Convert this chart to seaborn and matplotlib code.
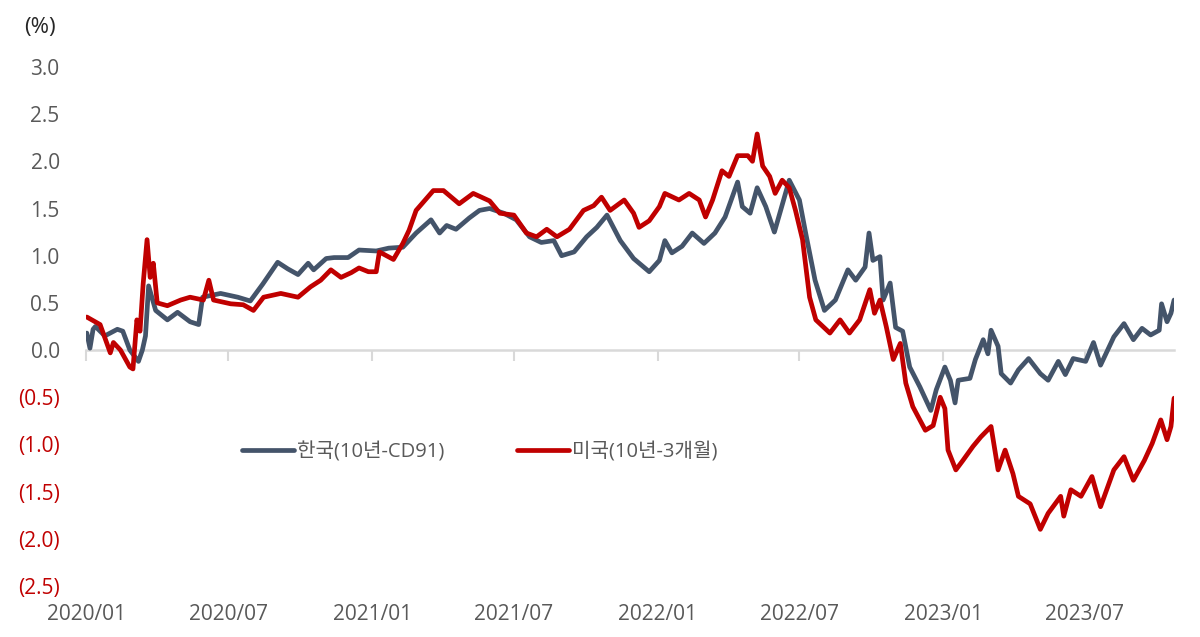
from matplotlib import pyplot as plt
import matplotlib.dates as mdates
import pandas as pd
import seaborn as sns
import numpy as np

# 한국(10년-CD91) 장단기 금리차
kr_dates = ["2020-01-02", "2020-01-06", "2020-01-10", "2020-01-13", "2020-01-25", "2020-02-10",
            "2020-02-17", "2020-02-26", "2020-03-08", "2020-03-13", "2020-03-17", "2020-03-21",
            "2020-03-30", "2020-04-14", "2020-04-27", "2020-05-13", "2020-05-24", "2020-05-29",
            "2020-06-21", "2020-07-13", "2020-07-29", "2020-08-14", "2020-09-02", "2020-09-15",
            "2020-09-28", "2020-10-11", "2020-10-18", "2020-11-03", "2020-11-13", "2020-12-01",
            "2020-12-15", "2021-01-06", "2021-01-22", "2021-02-09", "2021-02-26", "2021-03-17",
            "2021-03-28", "2021-04-06", "2021-04-18", "2021-05-05", "2021-05-18", "2021-05-31",
            "2021-06-18", "2021-07-04", "2021-07-21", "2021-08-05", "2021-08-21", "2021-08-31",
            "2021-09-16", "2021-10-02", "2021-10-15", "2021-10-28", "2021-11-14", "2021-12-01",
            "2021-12-21", "2022-01-03", "2022-01-10", "2022-01-19", "2022-02-01", "2022-02-14",
            "2022-03-01", "2022-03-15", "2022-03-28", "2022-04-13", "2022-04-19", "2022-04-29",
            "2022-05-08", "2022-05-19", "2022-05-30", "2022-06-07", "2022-06-18", "2022-07-01",
            "2022-07-09", "2022-07-21", "2022-08-02", "2022-08-16", "2022-09-01", "2022-09-11",
            "2022-09-23", "2022-09-28", "2022-10-03", "2022-10-12", "2022-10-16", "2022-10-25",
            "2022-11-01", "2022-11-10", "2022-11-19", "2022-12-02", "2022-12-16", "2022-12-23",
            "2023-01-03", "2023-01-10", "2023-01-16", "2023-01-20", "2023-02-04", "2023-02-11",
            "2023-02-21", "2023-02-27", "2023-03-03", "2023-03-12", "2023-03-16", "2023-03-28",
            "2023-04-07", "2023-04-20", "2023-05-05", "2023-05-15", "2023-05-28", "2023-06-06",
            "2023-06-16", "2023-07-02", "2023-07-12", "2023-07-21", "2023-08-07", "2023-08-20",
            "2023-09-01", "2023-09-12", "2023-09-23", "2023-10-04", "2023-10-07", "2023-10-14",
            "2023-10-19", "2023-10-23"]
kr_values = [0.18, 0.02, 0.22, 0.25, 0.15, 0.22,
             0.20, 0.00, -0.12, 0.00, 0.15, 0.68,
             0.42, 0.32, 0.40, 0.30, 0.27, 0.56,
             0.60, 0.56, 0.52, 0.70, 0.93, 0.86,
             0.80, 0.92, 0.85, 0.97, 0.98, 0.98,
             1.06, 1.05, 1.08, 1.09, 1.24, 1.38,
             1.24, 1.32, 1.28, 1.40, 1.48, 1.50,
             1.45, 1.38, 1.20, 1.14, 1.16, 1.00,
             1.04, 1.20, 1.30, 1.43, 1.16, 0.97,
             0.83, 0.95, 1.16, 1.03, 1.10, 1.24,
             1.13, 1.24, 1.41, 1.78, 1.52, 1.45,
             1.72, 1.52, 1.25, 1.48, 1.80, 1.59,
             1.24, 0.74, 0.42, 0.53, 0.85, 0.74,
             0.88, 1.24, 0.95, 0.99, 0.53, 0.71,
             0.24, 0.20, -0.18, -0.39, -0.64, -0.42,
             -0.18, -0.32, -0.56, -0.32, -0.30, -0.10,
             0.11, -0.04, 0.21, 0.04, -0.25, -0.35,
             -0.21, -0.09, -0.25, -0.32, -0.12, -0.26,
             -0.09, -0.12, 0.08, -0.16, 0.14, 0.28,
             0.11, 0.23, 0.16, 0.21, 0.49, 0.30,
             0.39, 0.53]

# 미국(10년-3개월) 장단기 금리차
us_dates = ["2020-01-02", "2020-01-19", "2020-02-01", "2020-02-05", "2020-02-14", "2020-02-26",
            "2020-03-01", "2020-03-06", "2020-03-10", "2020-03-14", "2020-03-19", "2020-03-23",
            "2020-03-27", "2020-04-01", "2020-04-14", "2020-05-01", "2020-05-13", "2020-05-30",
            "2020-06-06", "2020-06-12", "2020-07-04", "2020-07-20", "2020-08-02", "2020-08-15",
            "2020-09-06", "2020-09-28", "2020-10-14", "2020-10-27", "2020-11-09", "2020-11-22",
            "2020-12-05", "2020-12-15", "2020-12-27", "2021-01-06", "2021-01-10", "2021-01-28",
            "2021-02-09", "2021-02-17", "2021-02-26", "2021-03-20", "2021-04-02", "2021-04-22",
            "2021-05-10", "2021-05-31", "2021-06-13", "2021-07-01", "2021-07-17", "2021-07-30",
            "2021-08-12", "2021-08-25", "2021-09-10", "2021-09-28", "2021-10-11", "2021-10-21",
            "2021-11-01", "2021-11-19", "2021-12-01", "2021-12-08", "2021-12-21", "2022-01-03",
            "2022-01-10", "2022-01-28", "2022-02-10", "2022-02-23", "2022-03-03", "2022-03-12",
            "2022-03-24", "2022-04-02", "2022-04-13", "2022-04-26", "2022-05-02", "2022-05-08",
            "2022-05-15", "2022-05-24", "2022-05-31", "2022-06-09", "2022-06-18", "2022-06-26",
            "2022-07-05", "2022-07-14", "2022-07-22", "2022-08-09", "2022-08-22", "2022-09-03",
            "2022-09-16", "2022-09-29", "2022-10-05", "2022-10-12", "2022-10-20", "2022-10-29",
            "2022-11-07", "2022-11-14", "2022-11-23", "2022-12-09", "2022-12-19", "2022-12-28",
            "2023-01-03", "2023-01-07", "2023-01-17", "2023-01-26", "2023-02-08", "2023-02-18",
            "2023-03-03", "2023-03-12", "2023-03-21", "2023-03-31", "2023-04-07", "2023-04-22",
            "2023-05-05", "2023-05-15", "2023-05-31", "2023-06-04", "2023-06-13", "2023-06-26",
            "2023-07-10", "2023-07-21", "2023-08-07", "2023-08-20", "2023-09-01", "2023-09-15",
            "2023-09-25", "2023-10-06", "2023-10-14", "2023-10-19", "2023-10-23"]
us_values = [0.35, 0.27, -0.03, 0.08, 0.00, -0.18,
             -0.20, 0.32, 0.20, 0.70, 1.17, 0.77,
             0.92, 0.50, 0.47, 0.53, 0.56, 0.53,
             0.74, 0.53, 0.49, 0.48, 0.42, 0.56,
             0.60, 0.56, 0.67, 0.74, 0.85, 0.77,
             0.82, 0.87, 0.83, 0.83, 1.04, 0.96,
             1.13, 1.27, 1.48, 1.69, 1.69, 1.55,
             1.66, 1.58, 1.45, 1.43, 1.24, 1.20,
             1.28, 1.20, 1.28, 1.48, 1.53, 1.62,
             1.48, 1.59, 1.45, 1.30, 1.37, 1.52,
             1.66, 1.59, 1.66, 1.59, 1.41, 1.59,
             1.90, 1.84, 2.06, 2.06, 2.00, 2.29,
             1.95, 1.84, 1.66, 1.80, 1.72, 1.48,
             1.17, 0.56, 0.32, 0.18, 0.32, 0.18,
             0.32, 0.64, 0.39, 0.53, 0.25, -0.10,
             0.07, -0.35, -0.60, -0.85, -0.80, -0.50,
             -0.62, -1.06, -1.27, -1.17, -1.02, -0.92,
             -0.81, -1.27, -1.06, -1.31, -1.55, -1.63,
             -1.90, -1.73, -1.55, -1.76, -1.48, -1.55,
             -1.34, -1.66, -1.27, -1.13, -1.38, -1.17,
             -0.99, -0.74, -0.95, -0.81, -0.51]

series_names = ["한국(10년-CD91)", "미국(10년-3개월)"]
series_colors = ["#44546A", "#C00000"]
y_ticks = [-2.5, -2.0, -1.5, -1.0, -0.5, 0.0, 0.5, 1.0, 1.5, 2.0, 2.5, 3.0]

df = pd.concat([
    pd.DataFrame({"date": pd.to_datetime(kr_dates), "value": kr_values, "series": series_names[0]}),
    pd.DataFrame({"date": pd.to_datetime(us_dates), "value": us_values, "series": series_names[1]}),
])

sns.set_style("white")
plt.rcParams['font.family'] = ['Open Sans', 'Noto Sans CJK KR', 'DejaVu Sans']
text_gray = "#595959"

fig = plt.figure(figsize=(12, 6.37), dpi=100)
ax = fig.add_axes([0.0717, 0.0801, 0.9067, 0.8148])

sns.lineplot(data=df, x="date", y="value", hue="series", palette=series_colors,
             hue_order=series_names, linewidth=3.4, ax=ax, zorder=3)

ax.set_xlim(pd.Timestamp("2020-01-01"), pd.Timestamp("2023-10-23"))
ax.set_ylim(-2.5, 3.0)
ax.set(xlabel='', ylabel='')
for s in ax.spines.values():
    s.set_visible(False)

# x 레이블은 아래쪽, 눈금선은 0 위치에
ax.xaxis.set_major_locator(mdates.MonthLocator(bymonth=[1, 7]))
ax.xaxis.set_major_formatter(mdates.DateFormatter("%Y/%m"))
ax.tick_params(axis='x', length=0, pad=13, labelsize=15, labelcolor=text_gray)
ax.tick_params(axis='y', length=0, pad=19, labelsize=15)

ax.set_yticks(y_ticks)
labels = []
for v in y_ticks:
    labels.append("({:.1f})".format(-v) if v < 0 else "{:.1f}".format(v))
ax.set_yticklabels(labels)
for lbl, v in zip(ax.get_yticklabels(), y_ticks):
    lbl.set_color("#C00000" if v < 0 else text_gray)

zero_pos = (0 - (-2.5)) / (3.0 - (-2.5))
sec = ax.secondary_xaxis(zero_pos)
sec.xaxis.set_major_locator(mdates.MonthLocator(bymonth=[1, 7]))
sec.tick_params(axis='x', length=8, width=1.5, color="#D9D9D9", labelbottom=False, labeltop=False)
sec.spines['bottom'].set_color("#D9D9D9")
sec.spines['bottom'].set_linewidth(1.8)
sec.spines['top'].set_visible(False)

leg = ax.legend(loc='center', bbox_to_anchor=(0.362, 0.258), ncol=2, frameon=False,
                fontsize=14.5, handlelength=2.6, handletextpad=0.15, columnspacing=3.6)
for t in leg.get_texts():
    t.set_color(text_gray)
for h in leg.get_lines():
    h.set_linewidth(3.4)

fig.text(40 / 1200, 1 - 28 / 637, "(%)", ha='center', va='center', fontsize=16, color="#262626")

plt.savefig("out.png", dpi=100)
